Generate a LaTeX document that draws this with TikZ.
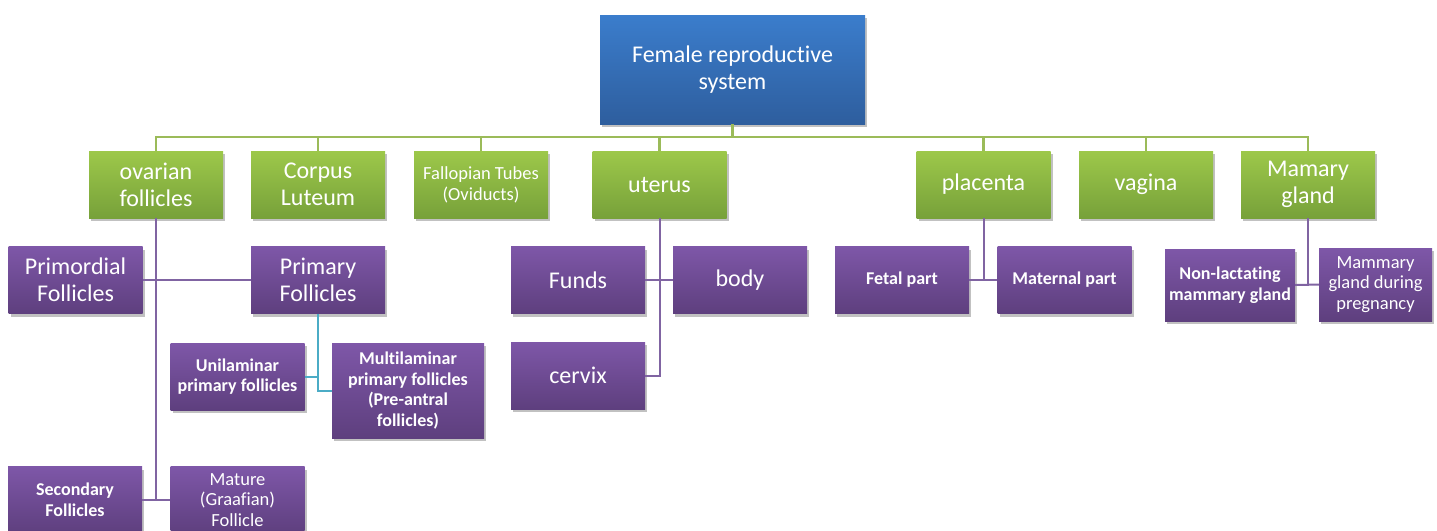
\documentclass[tikz,border=0pt]{standalone}
\usepackage{fontspec}
\setmainfont[Ligatures=NoCommon]{Carlito}
\usetikzlibrary{shadows}
\definecolor{gtop}{HTML}{9DC84A}
\definecolor{gbot}{HTML}{77A13A}
\definecolor{btop}{HTML}{3B7DCC}
\definecolor{bbot}{HTML}{2E5E9E}
\definecolor{ptop}{HTML}{7E57A8}
\definecolor{pbot}{HTML}{5E3F7E}
\definecolor{gline}{HTML}{9BBB59}
\definecolor{pline}{HTML}{8064A2}
\definecolor{tline}{HTML}{4BACC6}
\tikzset{
  basebox/.style={rectangle, inner sep=1pt, align=center, text=white,
    drop shadow={shadow xshift=2pt, shadow yshift=-3pt, opacity=0.35, fill=black!70}},
  gbox/.style={basebox, top color=gtop, bottom color=gbot, minimum width=134pt, minimum height=67pt},
  pbox/.style={basebox, top color=ptop, bottom color=pbot, minimum width=134pt, minimum height=67pt},
  bbox/.style={basebox, top color=btop, bottom color=bbot, minimum width=265pt, minimum height=109pt},
  bigtxt/.style={font=\fontsize{24}{27}\selectfont},
  midtxt/.style={font=\fontsize{18.5}{20.8}\selectfont},
  boldtxt/.style={font=\fontsize{18}{20.8}\selectfont\bfseries},
  gconn/.style={draw=gline, line width=2.5pt},
  pconn/.style={draw=pline, line width=2pt},
  tconn/.style={draw=tline, line width=2pt}
}
\begin{document}
\begin{tikzpicture}[x=1pt,y=-1pt]
\useasboundingbox (0,0) rectangle (1437,530);
\clip (0,0) rectangle (1437,530);
% nodes
\node[bbox, bigtxt] (root) at (732.5,69.5) {Female reproductive\\system};
\node[gbox, bigtxt] (ov) at (156,184.5) {ovarian\\follicles};
\node[gbox, bigtxt] (co) at (318,184.5) {Corpus\\Luteum};
\node[gbox, midtxt] (fa) at (481,184.5) {Fallopian Tubes\\(Oviducts)};
\node[gbox, bigtxt] (ut) at (659.5,184.5) {uterus};
\node[gbox, bigtxt] (pl) at (983.5,184.5) {placenta};
\node[gbox, bigtxt] (va) at (1146,184.5) {vagina};
\node[gbox, bigtxt] (mg) at (1308,184.5) {Mamary\\gland};

\node[pbox, bigtxt] (prim) at (75.5,280) {Primordial\\Follicles};
\node[pbox, bigtxt] (pri) at (318,280) {Primary\\Follicles};
\node[pbox, bigtxt] (fu) at (578,280) {Funds};
\node[pbox, bigtxt] (bo) at (740,280) {body};
\node[pbox, boldtxt] (fe) at (902,280) {Fetal part};
\node[pbox, boldtxt] (ma) at (1064.5,280) {Maternal part};
\node[pbox, boldtxt, minimum width=130pt, minimum height=72pt] (nl) at (1230,285) {Non-lactating\\mammary gland};
\node[pbox, midtxt, minimum width=113pt, minimum height=73pt] (mp) at (1375.5,284.5) {Mammary\\gland during\\pregnancy};

\node[pbox, boldtxt] (uni) at (237.5,376.5) {Unilaminar\\primary follicles};
\node[pbox, boldtxt, minimum width=152pt, minimum height=95pt] (multi) at (408,390.5) {Multilaminar\\primary follicles\\(Pre-antral\\follicles)};
\node[pbox, bigtxt] (cx) at (578,375.5) {cervix};

\node[pbox, boldtxt] (sec) at (75,500) {Secondary\\Follicles};
\node[pbox, midtxt] (mat) at (237.5,500) {Mature\\(Graafian)\\Follicle};

% green connectors
\coordinate (bar) at (732.5,137);
\draw[gconn] (root.south) -- (bar);
\foreach \n in {ov,co,fa,ut,pl,va,mg} { \draw[gconn] (\n.north) |- (bar); }

% ovarian follicles
\draw[pconn] (ov.south) |- (mat.west);
\draw[pconn] (prim.east) -- (pri.west);
\draw[pconn] (sec.east) -- (mat.west);
% primary follicles
\draw[tconn] (pri.south) |- (multi.west);
\draw[tconn] (uni.east) -- (uni.east -| pri.south);
% uterus
\draw[pconn] (ut.south) |- (cx.east);
\draw[pconn] (fu.east) -- (bo.west);
% placenta
\draw[pconn] (pl.south) |- (fe.east);
\draw[pconn] (fe.east) -- (ma.west);
% mamary
\draw[pconn] (mg.south) |- (nl.east);
\draw[pconn] (nl.east) -- (mp.west);
\end{tikzpicture}
\end{document}
